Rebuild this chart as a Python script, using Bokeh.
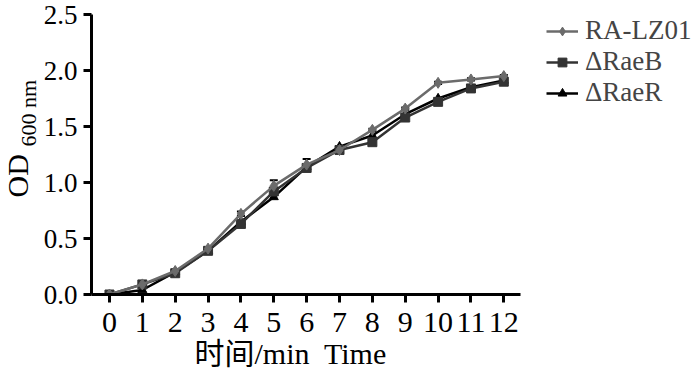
import math
from bokeh.plotting import figure
from bokeh.layouts import row
from bokeh.models import (Range1d, FixedTicker, Legend, LegendItem, Label, Title,
                          NumeralTickFormatter, ColumnDataSource, Whisker)
from bokeh.embed import file_html
from bokeh.resources import INLINE

time_h = [0, 1, 2, 3, 4, 5, 6, 7, 8, 9, 10, 11, 12]
ra_lz01 = [0.0, 0.09, 0.21, 0.41, 0.72, 0.97, 1.16, 1.29, 1.47, 1.66, 1.89, 1.92, 1.95]
ra_lz01_err = [0.0, 0.01, 0.01, 0.01, 0.02, 0.05, 0.05, 0.02, 0.01, 0.01, 0.01, 0.01, 0.01]
raeB = [0.0, 0.09, 0.19, 0.39, 0.63, 0.92, 1.13, 1.29, 1.36, 1.58, 1.72, 1.84, 1.90]
raeR = [0.0, 0.04, 0.20, 0.39, 0.65, 0.87, 1.14, 1.32, 1.42, 1.61, 1.75, 1.85, 1.91]
series_names = ["RA-LZ01", "ΔRaeB", "ΔRaeR"]
y_ticks = [0, 0.5, 1.0, 1.5, 2.0, 2.5]
x_title = "时间/min\u00a0 Time"

SERIF = "'Liberation Serif', 'Noto Sans CJK SC', serif"

H = 373
LEFT_W = 40
X_LO, X_AXIS_HI, X_FRAME_HI = -0.547, 12.52, 17.985

p = figure(width=700 - LEFT_W, height=H, output_backend="svg", toolbar_location=None,
           x_range=Range1d(X_LO, X_FRAME_HI), y_range=Range1d(0, 2.5),
           min_border_left=90 - LEFT_W, min_border_right=0, min_border_top=14,
           min_border_bottom=79)
p.outline_line_color = None
p.grid.visible = False

for ax in (p.xaxis[0], p.yaxis[0]):
    ax.axis_line_width = 3
    ax.axis_line_color = "black"
    ax.major_tick_line_width = 3
    ax.major_tick_line_color = "black"
    ax.major_tick_in = 0
    ax.major_tick_out = 8
    ax.minor_tick_line_color = None
    ax.major_label_text_font = SERIF
    ax.major_label_text_color = "black"

p.xaxis.bounds = (X_LO, X_AXIS_HI)
p.xaxis.ticker = FixedTicker(ticks=time_h)
p.xaxis.major_label_text_font_size = "30px"
p.xaxis.major_label_standoff = 10
p.xaxis.major_label_text_line_height = 0.9

p.yaxis.ticker = FixedTicker(ticks=y_ticks)
p.yaxis.formatter = NumeralTickFormatter(format="0.0")
p.yaxis.major_label_text_font_size = "27px"
p.yaxis.major_label_standoff = 6

xt = Title(text=x_title, align="left", offset=103, text_font=SERIF,
           text_font_size="30px", text_font_style="normal", text_color="black",
           standoff=0, text_line_height=0.85)
p.add_layout(xt, "below")

colors = ["#6b6b6b", "#333333", "#000000"]
data = [ra_lz01, raeB, raeR]
markers = ["diamond", "square", "triangle"]
sizes = [11, 9, 9]

renderers = {}
for i in [2, 1, 0]:
    src = ColumnDataSource(dict(x=time_h, y=data[i]))
    ln = p.line("x", "y", source=src, line_color=colors[i], line_width=2.5)
    sc = p.scatter("x", "y", source=src, marker=markers[i], size=sizes[i],
                   fill_color=colors[i], line_color=colors[i])
    renderers[i] = [ln, sc]

err_src = ColumnDataSource(dict(x=time_h,
                                upper=[v + e for v, e in zip(ra_lz01, ra_lz01_err)],
                                lower=[v - e for v, e in zip(ra_lz01, ra_lz01_err)]))
wh = Whisker(base="x", upper="upper", lower="lower", source=err_src,
             line_color="#333333", line_width=2)
wh.upper_head.size = 8
wh.upper_head.line_width = 2
wh.lower_head.size = 8
wh.lower_head.line_width = 2
p.add_layout(wh)

items = [LegendItem(label=series_names[i], renderers=renderers[i]) for i in range(3)]
legend = Legend(items=items, location=(455, 186), border_line_color=None,
                background_fill_alpha=0, label_text_font=SERIF,
                label_text_font_size="27px", glyph_width=32, glyph_height=22,
                label_standoff=7, spacing=0, padding=0, margin=0,
                label_height=22)
p.add_layout(legend)

# left strip carrying the rotated y-axis title with its subscript
lp = figure(width=LEFT_W, height=H, output_backend="svg", toolbar_location=None,
            x_axis_location=None, y_axis_location=None,
            x_range=Range1d(0, 1), y_range=Range1d(0, 1),
            min_border_left=0, min_border_right=0, min_border_top=0,
            min_border_bottom=0)
lp.outline_line_color = None
lp.grid.visible = False

od = Label(x=17, y=97, x_units="screen", y_units="screen", text="OD",
           angle=math.pi / 2, text_font=SERIF, text_font_size="30px",
           text_align="left", text_baseline="alphabetic", text_color="black")
sub = Label(x=28, y=148, x_units="screen", y_units="screen", text="600 nm",
            angle=math.pi / 2, text_font=SERIF, text_font_size="22px",
            text_align="left", text_baseline="alphabetic", text_color="black")
lp.add_layout(od)
lp.add_layout(sub)

layout = row(lp, p)
open("out.html", "w").write(file_html(layout, INLINE))
